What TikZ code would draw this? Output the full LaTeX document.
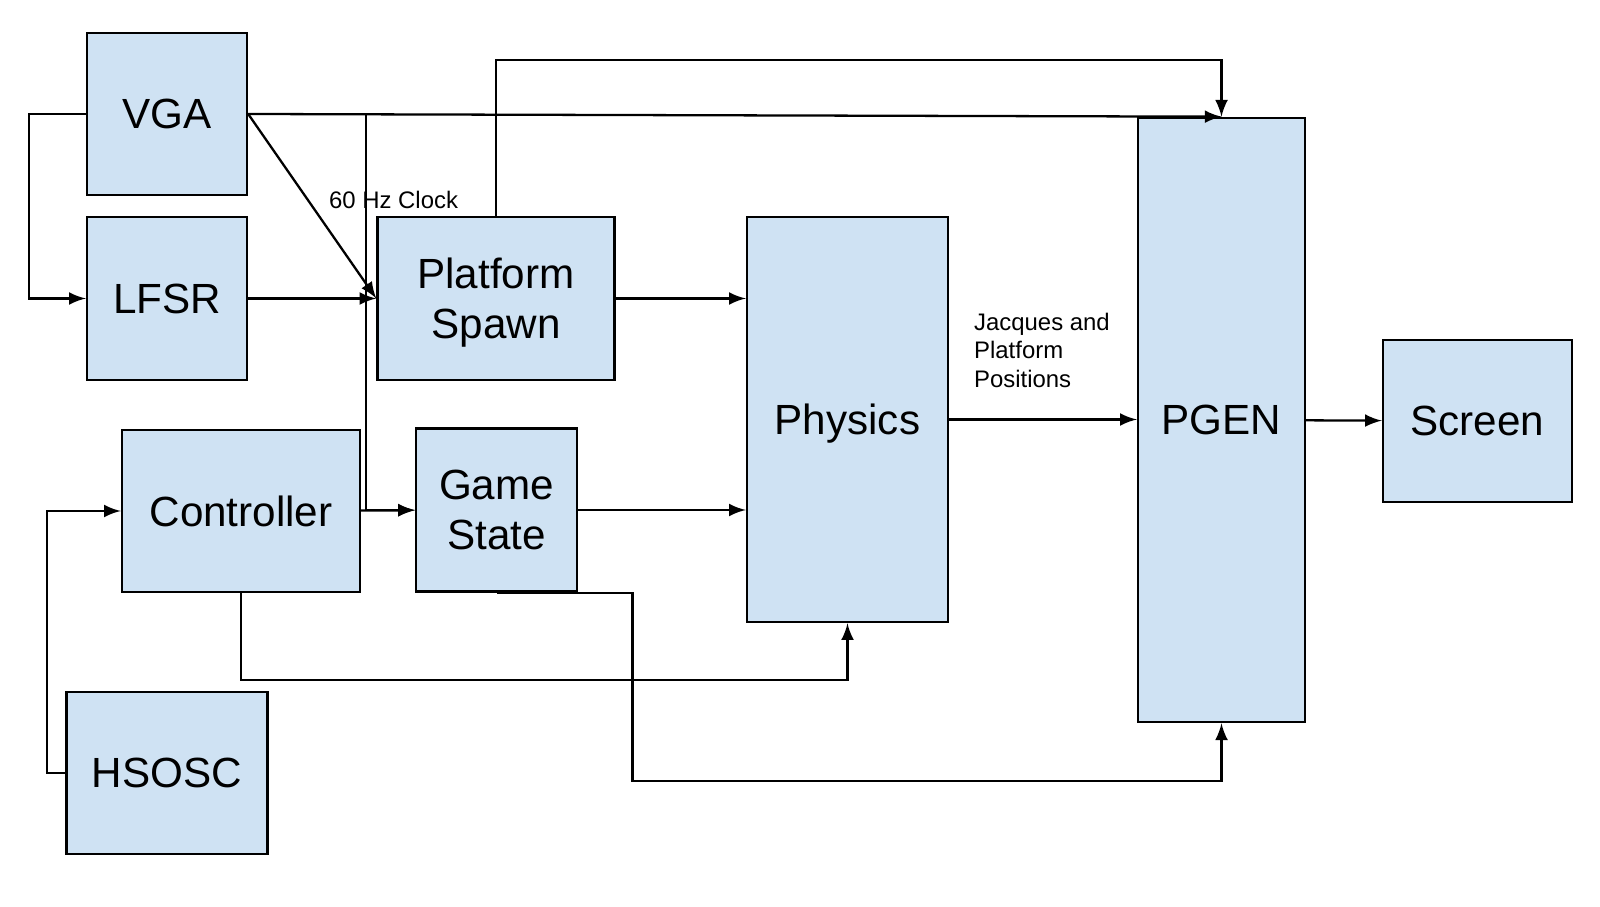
\documentclass[tikz,border=0pt]{standalone}
\usepackage{fontspec}
\setmainfont{Liberation Sans}
\usepackage{tikz}
\usetikzlibrary{arrows}
\definecolor{boxblue}{HTML}{CFE2F3}

\begin{document}
\begin{tikzpicture}
		[x=0.01cm, y=-0.01cm, >=latex, line width=0.65pt,
		 b/.style= {draw=black,fill=boxblue,inner sep=0pt,align=center,text depth=0pt,
		            font=\fontsize{12}{14.2}\selectfont},
		 lbl/.style= {inner sep=0pt,align=left,font=\fontsize{6.8}{8.1}\selectfont}]

		\useasboundingbox (0,0) rectangle (1600,907);

		\node[b,minimum width=1.60cm,minimum height=1.62cm] (vga) at (167,114) {VGA};
		\node[b,minimum width=1.60cm,minimum height=1.63cm] (lfsr) at (167,298.5) {LFSR};
		\node[b,minimum width=2.37cm,minimum height=1.63cm] (ps) at (496,298.5) {Platform\\Spawn}
			edge [<-]	(lfsr)
		;
		\node[b,minimum width=2.38cm,minimum height=1.62cm] (ctrl) at (241,511) {Controller};
		\node[b,minimum width=1.61cm,minimum height=1.63cm] (gs) at (496.5,510) {Game\\State}
			edge [<-]	(ctrl)
		;
		\node[b,minimum width=2.01cm,minimum height=4.05cm] (phys) at (847.5,419.5) {Physics};
		\node[b,minimum width=1.67cm,minimum height=6.04cm] (pgen) at (1221.5,420) {PGEN};
		\node[b,minimum width=1.89cm,minimum height=1.62cm] (scr) at (1477.5,421) {Screen}
			edge [<-]	(pgen)
		;
		\node[b,minimum width=2.01cm,minimum height=1.62cm] (hsosc) at (167,773) {HSOSC};

		% labels
		\node[lbl,anchor=west] (clk) at (328,200) {60 Hz Clock};
		\node[lbl,anchor=west] (pos) at (973,350) {Jacques and\\Platform\\Positions};

		\coordinate (tap) at (366,114);

		% connectors
		\draw[->] (vga.west) -- ++(-57,0) |- (lfsr.west);
		\draw[->] (vga.east) -- (ps.west);
		\draw[->] (vga.east) -- (pgen.north);
		\draw[->] (tap) |- (gs.west);
		\draw[->] (ps.north) -- ++(0,-156) -| (pgen.north);
		\draw[->] (ps.east) -- (ps.east -| phys.west);
		\draw[->] (gs.east) -- (gs.east -| phys.west);
		\draw[->] (phys.east) -- (phys.east -| pgen.west);
		\draw[->] (ctrl.south) -- ++(0,87) -| (phys.south);
		\draw[->] (gs.south) -- ++(136,0) -- ++(0,188) -| (pgen.south);
		\draw[->] (hsosc.west) -- ++(-18,0) |- (ctrl.west);

	\end{tikzpicture}
\end{document}
